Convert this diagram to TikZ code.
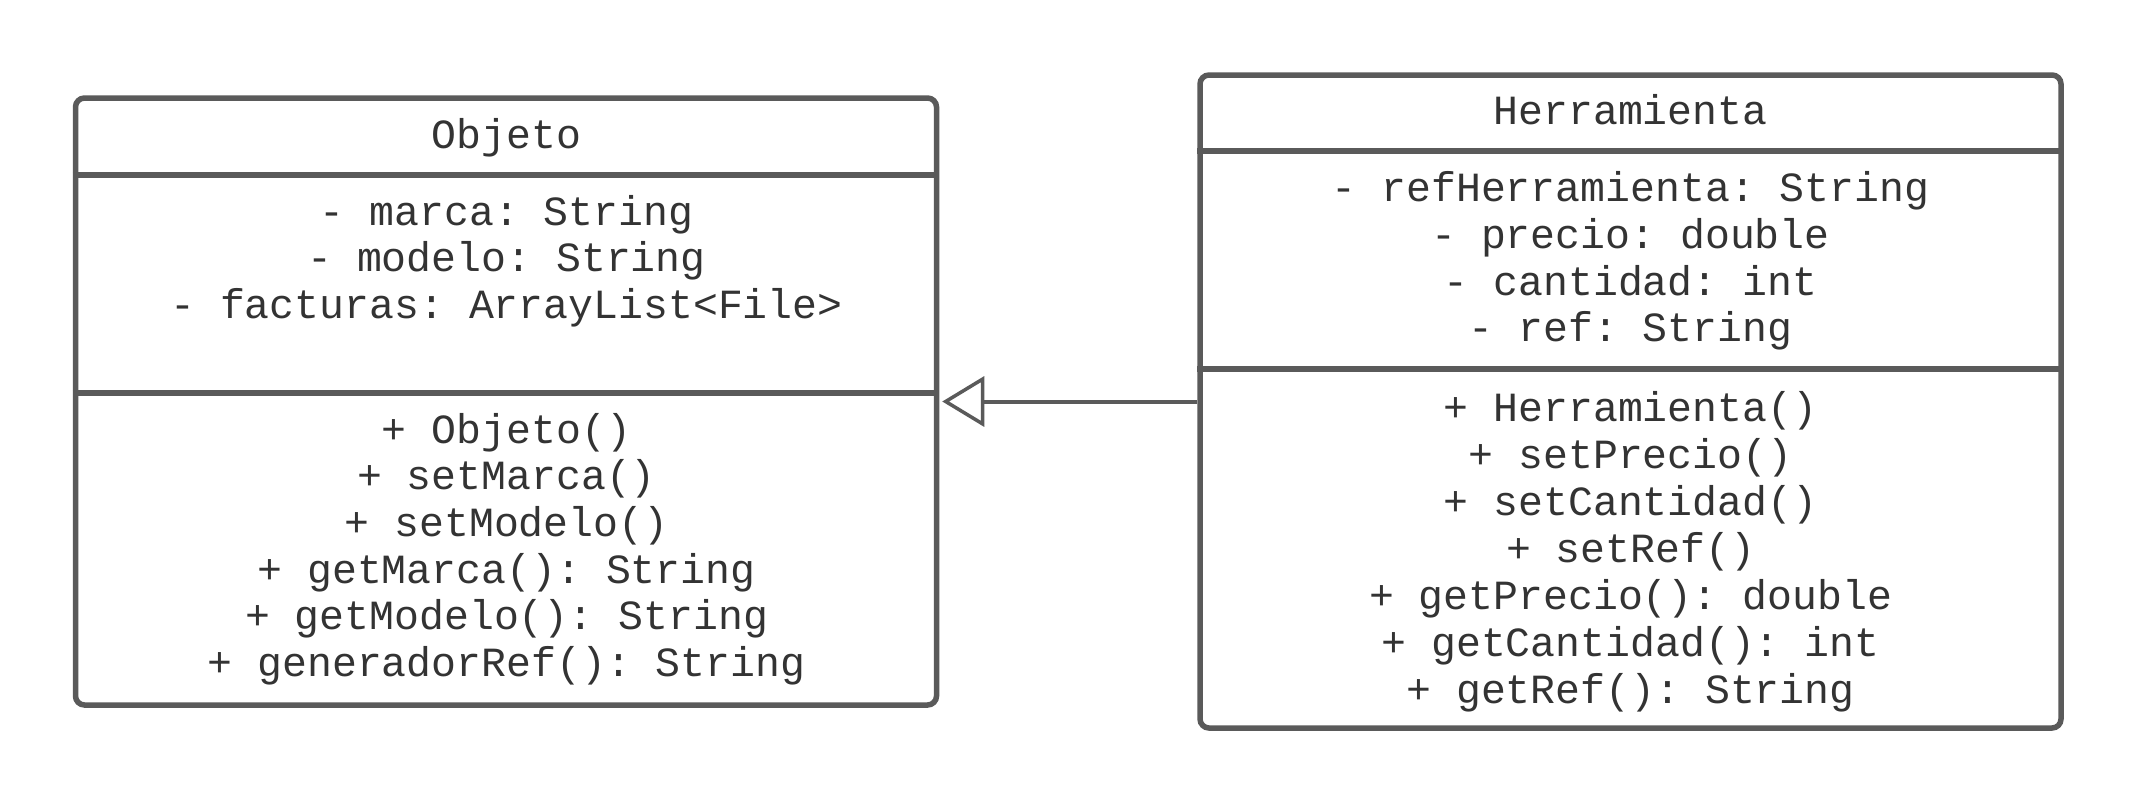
\documentclass[tikz,border=0pt]{standalone}
\usepackage{fontspec}
\setmonofont{Liberation Mono}
\usetikzlibrary{arrows.meta}
\definecolor{linec}{HTML}{5A5A5A}
\definecolor{textc}{HTML}{333333}
\begin{document}
\begin{tikzpicture}[x=1pt,y=-1pt,
  classbox/.style={draw=linec, line width=5.5pt, rounded corners=9pt, inner sep=0pt, minimum width=861pt},
  divline/.style={draw=linec, line width=5.5pt},
  txt/.style={font=\ttfamily\fontsize{41.5}{46.7}\selectfont, text=textc, anchor=base, inner sep=0pt},
  conn/.style={draw=linec, line width=4pt, -{Triangle[open, length=42pt, width=50pt, line width=3.5pt]}, shorten >=3pt}]
\useasboundingbox (0,0) rectangle (2138,806);
\fill[white] (0,0) rectangle (2138,806);

% Objeto
\node[classbox, minimum height=607pt] (objeto) at (506,401.5) {};
\draw[divline] (objeto.west |- 0,175) -- (objeto.east |- 0,175);
\draw[divline] (objeto.west |- 0,393) -- (objeto.east |- 0,393);
\node[txt] (oname) at (506.5,148.3) {Objeto};
\foreach \t [count=\i] in {- marca: String, - modelo: String, - facturas: ArrayList<File>}
  \node[txt] (oa\i) at (506.5,{225+46.7*(\i-1)}) {\t};
\foreach \t [count=\i] in {+ Objeto(), + setMarca(), + setModelo(), + getMarca(): String, + getModelo(): String, + generadorRef(): String}
  \node[txt] (om\i) at (506.5,{443+46.7*(\i-1)}) {\t};

% Herramienta
\node[classbox, minimum height=653pt] (herr) at (1630.5,401.5) {};
\draw[divline] (herr.west |- 0,151) -- (herr.east |- 0,151);
\draw[divline] (herr.west |- 0,369) -- (herr.east |- 0,369);
\node[txt] (hname) at (1630.5,124.3) {Herramienta};
\foreach \t [count=\i] in {- refHerramienta: String, - precio: double, - cantidad: int, - ref: String}
  \node[txt] (ha\i) at (1630.5,{201.7+46.7*(\i-1)}) {\t};
\foreach \t [count=\i] in {+ Herramienta(), + setPrecio(), + setCantidad(), + setRef(), + getPrecio(): double, + getCantidad(): int, + getRef(): String}
  \node[txt] (hm\i) at (1630.5,{421+47*(\i-1)}) {\t};

% Generalization
\draw[conn] (herr.west) -- (objeto.east);
\end{tikzpicture}
\end{document}
